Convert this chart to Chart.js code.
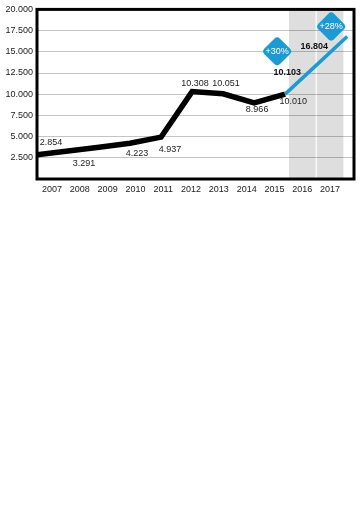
<!DOCTYPE html>
<html>
<head>
<meta charset="utf-8">
<script src="https://cdn.jsdelivr.net/npm/chart.js@4"></script>
<style>
  html, body { margin: 0; padding: 0; background: #fff; }
  #wrap { width: 362px; height: 200px; position: relative; }
</style>
</head>
<body>
<div id="wrap"><canvas id="lineChart"></canvas></div>
<script>
// data
var years = [2007, 2008, 2009, 2010, 2011, 2012, 2013, 2014, 2015];
var values = [2854, 3291, 3750, 4223, 4937, 10308, 10051, 8966, 10010];
var valueLabels = ['2.854', '3.291', '', '4.223', '4.937', '10.308', '10.051', '8.966', '10.010'];

var forecastYears = [2015, 2016, 2017];
var forecastValues = [10010, 13400, 16804];
var forecastLabels = ['', '10.103', '16.804'];
var growthLabels = ['', '+30%', '+28%'];

var tickYears = [2007, 2008, 2009, 2010, 2011, 2012, 2013, 2014, 2015, 2016, 2017];
var shadedYears = [2016, 2017];

var BLUE = '#1b9bd3';
var FONT = "'Liberation Sans', Arial, sans-serif";

function fmt(v) {
    return v.toLocaleString('de-DE');
}

// label offsets from the point (px)
var labelShift = [[14, -12], [16, 12], [0, 0], [7, 10], [9, 12], [3, -8], [3, -10], [3, 7], [8, 7]];
var forecastShift = [[0, 0], [-29, 7], [-33, 10]];
var badgeShift = [[0, 0], [-39, -14], [-16, -10]];

var frame = {
    id: 'frame',
    afterDatasetsDraw: function (chart) {
        var a = chart.chartArea, c = chart.ctx;
        c.save();
        c.strokeStyle = '#000';
        c.lineWidth = 3;
        c.strokeRect(a.left, a.top, a.right - a.left, a.bottom - a.top);
        c.restore();
    }
};

var pointLabels = {
    id: 'pointLabels',
    afterDraw: function (chart) {
        var c = chart.ctx;
        c.save();
        c.textAlign = 'center';
        c.textBaseline = 'middle';
        c.fillStyle = '#222';

        c.font = '9px ' + FONT;
        chart.getDatasetMeta(1).data.forEach(function (pt, i) {
            if (!valueLabels[i]) return;
            c.fillText(valueLabels[i], pt.x + labelShift[i][0], pt.y + labelShift[i][1]);
        });

        chart.getDatasetMeta(2).data.forEach(function (pt, i) {
            if (forecastLabels[i]) {
                c.fillStyle = '#111';
                c.font = 'bold 9px ' + FONT;
                c.fillText(forecastLabels[i], pt.x + forecastShift[i][0], pt.y + forecastShift[i][1]);
            }
            if (growthLabels[i]) {
                var bx = pt.x + badgeShift[i][0], by = pt.y + badgeShift[i][1];
                c.save();
                c.translate(bx, by);
                c.rotate(Math.PI / 4);
                c.fillStyle = BLUE;
                c.beginPath();
                c.roundRect(-11, -11, 22, 22, 4);
                c.fill();
                c.restore();
                c.fillStyle = '#fff';
                c.font = '9px ' + FONT;
                c.fillText(growthLabels[i], bx, by + 0.5);
            }
        });
        c.restore();
    }
};

var ctx = document.getElementById('lineChart').getContext('2d');

var myChart = new Chart(ctx, {
    type: 'line',
    data: {
        datasets: [{
            type: 'bar',
            data: shadedYears.map(function (y) { return { x: y, y: 20000 }; }),
            xAxisID: 'x',
            backgroundColor: 'rgba(0,0,0,0.13)',
            barThickness: 26,
            grouped: false,
            order: 3
        }, {
            data: years.map(function (y, i) { return { x: y, y: values[i] }; }),
            xAxisID: 'xd',
            borderColor: '#000',
            borderWidth: 5.5,
            borderJoinStyle: 'miter',
            pointRadius: 0,
            tension: 0,
            order: 2
        }, {
            data: forecastYears.map(function (y, i) { return { x: y, y: forecastValues[i] }; }),
            xAxisID: 'xd',
            borderColor: BLUE,
            borderWidth: 3.5,
            pointRadius: 0,
            tension: 0,
            order: 1
        }]
    },
    options: {
        responsive: true,
        maintainAspectRatio: false,
        animation: false,
        layout: { padding: { top: 0, right: 8, left: 0, bottom: 0 } },
        plugins: {
            legend: { display: false },
            tooltip: { enabled: false }
        },
        scales: {
            x: {
                type: 'linear',
                position: 'bottom',
                offset: false,
                min: 2006.46,
                max: 2017.86,
                afterFit: function (s) { s.height = 21; },
                afterBuildTicks: function (s) {
                    s.ticks = tickYears.map(function (y) { return { value: y }; });
                },
                grid: { display: false, drawTicks: false, offset: false },
                border: { display: false },
                ticks: {
                    autoSkip: false,
                    maxRotation: 0,
                    padding: 5,
                    color: '#222',
                    font: { family: FONT, size: 9 },
                    callback: function (v) { return String(v); }
                }
            },
            xd: {
                type: 'linear',
                display: false,
                min: 2007,
                max: 2017.22
            },
            y: {
                min: 0,
                max: 20000,
                afterFit: function (s) { s.width = 37; },
                grid: { color: '#c4c4c4', lineWidth: 1, drawTicks: false },
                border: { display: false },
                ticks: {
                    stepSize: 2500,
                    padding: 4,
                    color: '#222',
                    font: { family: FONT, size: 9 },
                    callback: function (v) { return v === 0 ? '' : fmt(v); }
                }
            }
        }
    },
    plugins: [frame, pointLabels]
});
</script>
</body>
</html>
